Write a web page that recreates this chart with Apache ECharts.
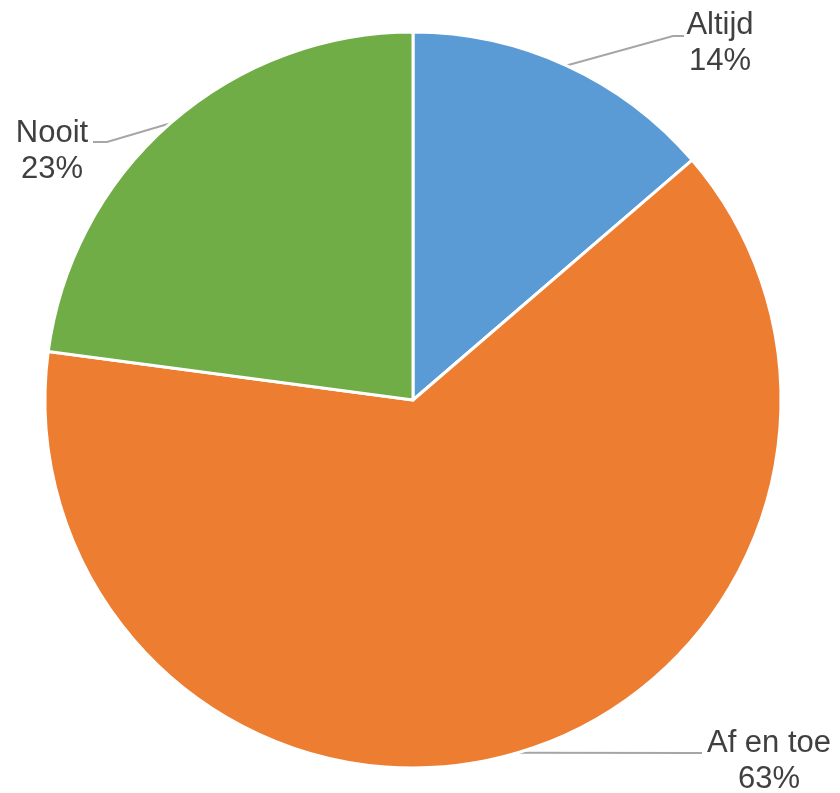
<!DOCTYPE html>
<html><head><meta charset="utf-8">
<script src="https://cdn.jsdelivr.net/npm/echarts@6/dist/echarts.min.js"></script>
<style>html,body{margin:0;padding:0;background:#fff}#c{width:840px;height:793px}</style>
</head><body><div id="c"></div>
<script>
const categories = ['Altijd', 'Af en toe', 'Nooit'];
const values = [13.7, 63.4, 22.9];
const colors = ['#5B9BD5', '#ED7D31', '#70AD47'];
// label anchor positions (layout only)
const labelPos = [
  {x: 720, y: 43, bend: [673, 36], end: [684, 36]},
  {x: 769, y: 761, bend: [700, 753], end: [702, 753]},
  {x: 52, y: 151, bend: [107, 142], end: [93, 142]}
];
const chart = echarts.init(document.getElementById('c'));
chart.setOption({
  animation: false,
  series: [{
    type: 'pie',
    center: [413, 400],
    radius: 368,
    startAngle: 90,
    clockwise: true,
    data: categories.map((n, i) => ({name: n, value: values[i], itemStyle: {color: colors[i]}})),
    itemStyle: {borderColor: '#fff', borderWidth: 3},
    label: {
      show: true,
      formatter: p => p.name + '\n' + Math.round(p.percent) + '%',
      fontFamily: 'Liberation Sans, Arial, sans-serif',
      fontSize: 31,
      lineHeight: 36,
      color: '#404040',
      align: 'center'
    },
    labelLine: {show: true, lineStyle: {color: '#A6A6A6', width: 2}},
    labelLayout: function (params) {
      const i = params.dataIndex;
      const lp = labelPos[i];
      const start = params.labelLinePoints ? params.labelLinePoints[0] : lp.bend;
      return {
        x: lp.x, y: lp.y, align: 'center', verticalAlign: 'middle',
        labelLinePoints: [start, lp.bend, lp.end]
      };
    }
  }]
});
</script></body></html>
